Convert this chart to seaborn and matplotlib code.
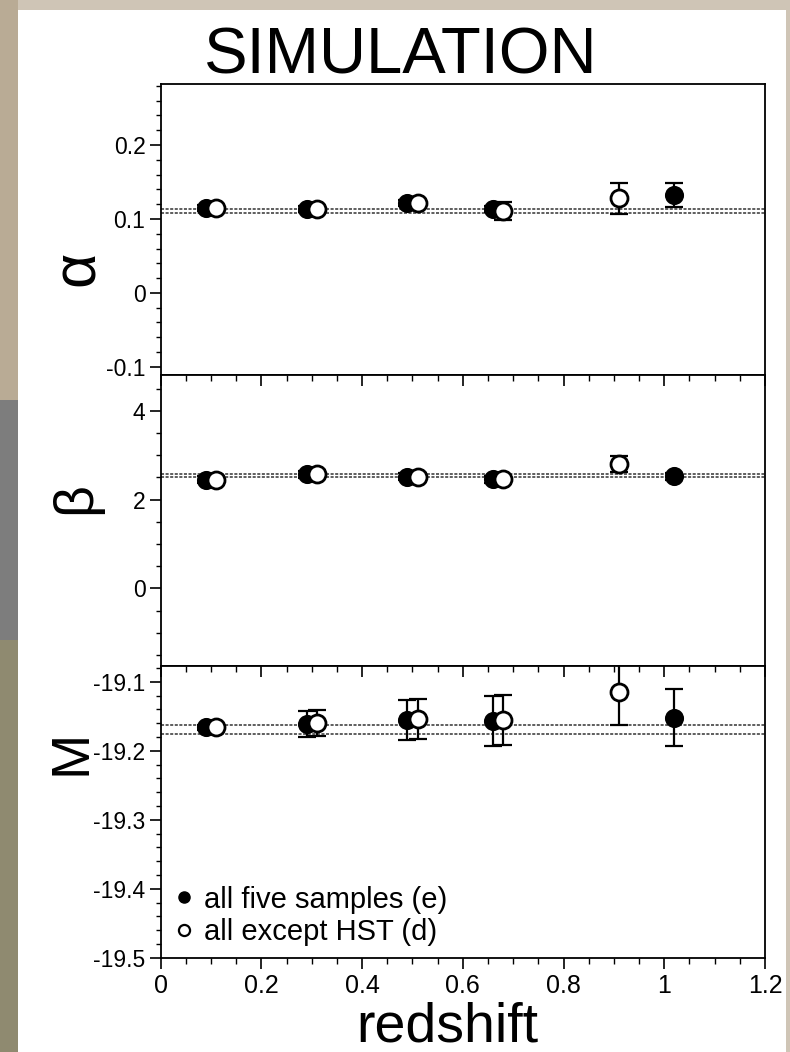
import numpy as np
import pandas as pd
import matplotlib
matplotlib.use("Agg")
import matplotlib.pyplot as plt
from matplotlib.patches import Rectangle
from matplotlib.ticker import MultipleLocator, FormatStrFormatter, FuncFormatter
import seaborn as sns

# ---------------- data ----------------
z_all = [0.09, 0.29, 0.49, 0.66, 1.02]      # all five samples (e), filled
z_nohst = [0.11, 0.31, 0.51, 0.68, 0.91]    # all except HST (d), open

alpha_all = [0.115, 0.113, 0.122, 0.114, 0.132]
alpha_all_err = [0.004, 0.004, 0.004, 0.004, 0.016]
alpha_nohst = [0.115, 0.113, 0.122, 0.111, 0.128]
alpha_nohst_err = [0.004, 0.004, 0.004, 0.012, 0.021]

beta_all = [2.45, 2.57, 2.52, 2.46, 2.53]
beta_all_err = [0.08, 0.08, 0.08, 0.08, 0.08]
beta_nohst = [2.45, 2.58, 2.52, 2.46, 2.80]
beta_nohst_err = [0.08, 0.08, 0.08, 0.08, 0.18]

M_all = [-19.166, -19.161, -19.155, -19.157, -19.152]
M_all_err = [0.004, 0.019, 0.029, 0.036, 0.041]
M_nohst = [-19.166, -19.160, -19.154, -19.155, -19.115]
M_nohst_err = [0.004, 0.019, 0.029, 0.036, 0.048]

alpha_band = [0.108, 0.113]
beta_band = [2.50, 2.58]
M_band = [-19.176, -19.163]

alpha_ticks = [-0.1, 0, 0.1, 0.2]
beta_ticks = [0, 2, 4]
M_ticks = [-19.5, -19.4, -19.3, -19.2, -19.1]
x_ticks = [0, 0.2, 0.4, 0.6, 0.8, 1, 1.2]

labels = ["all five samples (e)", "all except HST (d)"]

# ---------------- style ----------------
sns.set_theme(style="ticks")
plt.rcParams["font.family"] = ["Liberation Sans", "DejaVu Sans"]
plt.rcParams["axes.unicode_minus"] = False
plt.rcParams.update({"text.color": "black", "axes.labelcolor": "black",
                     "xtick.color": "black", "ytick.color": "black",
                     "axes.edgecolor": "black"})

W, H = 790, 1052
fig = plt.figure(figsize=(W / 100, H / 100), dpi=100)
fig.patch.set_facecolor("#cfc5b6")

# background decoration: white sheet and left strip tint
fig.add_artist(Rectangle((0, 0), 18 / W, 1, transform=fig.transFigure,
                         facecolor="#b9ab95", edgecolor="none", zorder=-3))
fig.add_artist(Rectangle((0, 1 - 640 / H), 18 / W, 240 / H, transform=fig.transFigure,
                         facecolor="#7d7d7d", edgecolor="none", zorder=-2))
fig.add_artist(Rectangle((0, 0), 18 / W, 1 - 640 / H, transform=fig.transFigure,
                         facecolor="#8f8a70", edgecolor="none", zorder=-2))
fig.add_artist(Rectangle((18 / W, 0), 768 / W, 1 - 10 / H, transform=fig.transFigure,
                         facecolor="white", edgecolor="none", zorder=-1))

left = 160.7 / W
width = (765 - 160.7) / W


def make_ax(top_px, bot_px):
    return fig.add_axes([left, 1 - bot_px / H, width, (bot_px - top_px) / H])


ax_a = make_ax(84.3, 375)
ax_b = make_ax(375, 666)
ax_m = make_ax(666, 957.7)

panels = [
    (ax_a, alpha_all, alpha_all_err, alpha_nohst, alpha_nohst_err, alpha_band,
     (-0.111, 0.282), alpha_ticks, 0.02, "%g"),
    (ax_b, beta_all, beta_all_err, beta_nohst, beta_nohst_err, beta_band,
     (-1.75, 4.81), beta_ticks, 0.5, "%g"),
    (ax_m, M_all, M_all_err, M_nohst, M_nohst_err, M_band,
     (-19.5, -19.077), M_ticks, 0.02, "%.1f"),
]

for ax, ya, ea, yn, en, band, ylim, yt, ymin, fmt in panels:
    ax.set_facecolor("white")
    for b in band:
        ax.axhline(b, color="#333333", lw=1.1, ls=(0, (2.0, 1.0)), zorder=1)
    ax.errorbar(z_all, ya, yerr=ea, fmt="none", ecolor="black", elinewidth=1.6,
                capsize=6.5, capthick=1.6, zorder=2)
    ax.errorbar(z_nohst, yn, yerr=en, fmt="none", ecolor="black", elinewidth=1.6,
                capsize=6.5, capthick=1.6, zorder=2)
    df = pd.DataFrame({"z": z_all + z_nohst, "v": list(ya) + list(yn),
                       "s": [labels[0]] * len(z_all) + [labels[1]] * len(z_nohst)})
    sns.scatterplot(data=df[df.s == labels[0]], x="z", y="v", ax=ax, s=150,
                    color="black", edgecolor="black", linewidth=1.5, zorder=3,
                    legend=False)
    sns.scatterplot(data=df[df.s == labels[1]], x="z", y="v", ax=ax, s=150,
                    color="white", edgecolor="black", linewidth=2.0, zorder=4,
                    legend=False)
    ax.set_xlim(0, 1.2)
    ax.set_ylim(*ylim)
    ax.set_yticks(yt)
    ax.yaxis.set_minor_locator(MultipleLocator(ymin))
    ax.yaxis.set_major_formatter(FormatStrFormatter(fmt))
    ax.tick_params(axis="y", which="major", direction="out", length=8, width=1.2,
                   labelsize=16.5, pad=3, colors="black")
    ax.tick_params(axis="y", which="minor", direction="out", length=3.5, width=1.0,
                   colors="black")
    ax.set_xlabel("")
    ax.set_ylabel("")
    for sp in ax.spines.values():
        sp.set_visible(True)
        sp.set_color("black")
        sp.set_linewidth(1.3)

# x ticks: none for alpha, inward on top for beta and M, outward bottom for M
ax_a.tick_params(axis="x", which="both", bottom=False, top=False,
                 labelbottom=False)
ax_b.tick_params(axis="x", which="both", bottom=False, top=False,
                 labelbottom=False)

for ax in (ax_b, ax_m):
    sec = ax.secondary_xaxis("top")
    sec.set_xticks(x_ticks)
    sec.xaxis.set_minor_locator(MultipleLocator(0.05))
    sec.tick_params(axis="x", which="major", direction="in", length=8, width=1.2,
                    labeltop=False, colors="black")
    sec.tick_params(axis="x", which="minor", direction="in", length=4, width=1.0,
                    colors="black")
    sec.spines["top"].set_visible(False)

ax_m.set_xticks(x_ticks)
ax_m.xaxis.set_minor_locator(MultipleLocator(0.05))
ax_m.xaxis.set_major_formatter(FuncFormatter(lambda v, p: "%g" % v))
ax_m.tick_params(axis="x", which="major", direction="out", length=8, width=1.2,
                 labelsize=18, pad=4, colors="black", bottom=True)
ax_m.tick_params(axis="x", which="minor", direction="out", length=4, width=1.0,
                 colors="black", bottom=True)

# legend
h1 = plt.Line2D([], [], ls="none", marker="o", ms=8, mfc="black", mec="black")
h2 = plt.Line2D([], [], ls="none", marker="o", ms=8, mfc="white", mec="black", mew=1.6)
ax_m.legend([h1, h2], labels, loc="lower left", frameon=False, fontsize=21,
            handletextpad=0.3, handlelength=0.8, labelspacing=0.15,
            borderaxespad=0.2, borderpad=0.2)

# titles and axis labels
fig.text(401 / W, 1 - 74 / H, "SIMULATION", ha="center", va="baseline", fontsize=47)
fig.text(447 / W, 1 - 1042 / H, "redshift", ha="center", va="baseline", fontsize=40)
fig.text(78 / W, 1 - 268 / H, "α", ha="center", va="center", fontsize=44, rotation=90)
fig.text(76 / W, 1 - 498 / H, "β", ha="center", va="center", fontsize=40, rotation=90)
fig.text(71 / W, 1 - 752 / H, "M", ha="center", va="center", fontsize=39, rotation=90)

fig.savefig("out.png", dpi=100, facecolor=fig.get_facecolor())
